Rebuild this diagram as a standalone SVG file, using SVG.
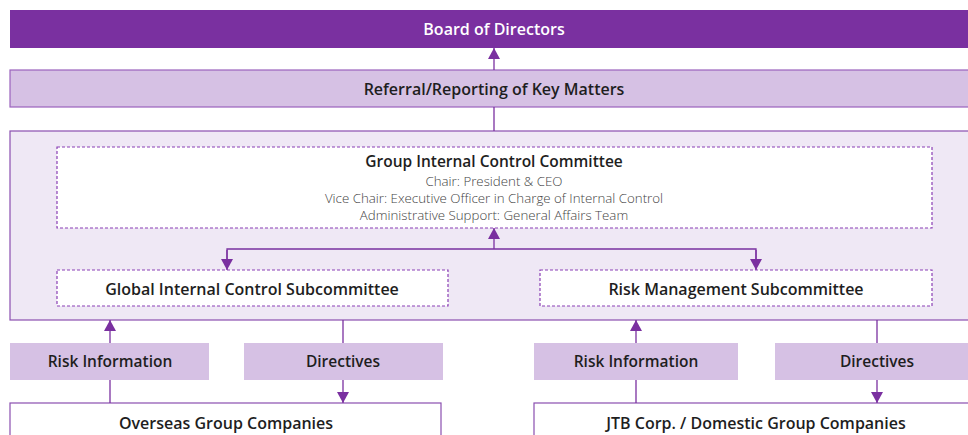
<svg xmlns="http://www.w3.org/2000/svg" width="968" height="435" viewBox="0 0 968 435">
<defs>
<style>
.t{font-family:"Open Sans","Noto Sans","Liberation Sans",sans-serif;font-weight:600;font-size:16px;fill:#1e1e1e;text-anchor:middle}
.m{font-size:15.5px}
.s{font-family:"Open Sans","Noto Sans","Liberation Sans",sans-serif;font-weight:300;font-size:13.3px;fill:#444;text-anchor:middle}
.band{fill:#d6c1e4;stroke:#9a62bd;stroke-width:1.2}
.lab{fill:#d6c1e4}
.dash{fill:#fff;stroke:#8a3fb5;stroke-width:1.2;stroke-dasharray:3 2}
.co{fill:#fff;stroke:#8a4fb0;stroke-width:1.2}
.ln{stroke:#7a30a0;stroke-width:1.3;fill:none}
</style>
<marker id="ah" viewBox="0 0 11 12" refX="11" refY="6" markerWidth="11" markerHeight="12" markerUnits="userSpaceOnUse" orient="auto">
<path d="M0,0 L11,6 L0,12 Z" fill="#7a30a0"/>
</marker>
</defs>
<g id="board">
<rect x="10" y="10" width="968" height="38" fill="#7a30a0"/>
<text class="t" x="494" y="35" style="fill:#fff">Board of Directors</text>
</g>
<g id="referral">
<rect class="band" x="10" y="70" width="968" height="37"/>
<text class="t" x="494" y="94.5">Referral/Reporting of Key Matters</text>
</g>
<g id="container">
<rect x="10" y="131" width="968" height="189" fill="#efe8f5" stroke="#8a4fb0" stroke-width="1.2"/>
</g>
<g id="committee">
<rect class="dash" x="57" y="147" width="875" height="81"/>
<text class="t m" x="494" y="167">Group Internal Control Committee</text>
<text class="s" x="494" y="185.5">Chair: President &amp; CEO</text>
<text class="s" x="494" y="202.5">Vice Chair: Executive Officer in Charge of Internal Control</text>
<text class="s" x="494" y="219.5">Administrative Support: General Affairs Team</text>
</g>
<g id="global">
<rect class="dash" x="57" y="270" width="391" height="36"/>
<text class="t" x="252" y="295">Global Internal Control Subcommittee</text>
</g>
<g id="riskmgmt">
<rect class="dash" x="540" y="270" width="392" height="36"/>
<text class="t" x="736" y="295">Risk Management Subcommittee</text>
</g>
<g id="riskinfo1">
<rect class="lab" x="10" y="343" width="199" height="37"/>
<text class="t m" x="110" y="367">Risk Information</text>
</g>
<g id="directives1">
<rect class="lab" x="244" y="343" width="199" height="37"/>
<text class="t m" x="343" y="367">Directives</text>
</g>
<g id="riskinfo2">
<rect class="lab" x="534" y="343" width="204" height="37"/>
<text class="t m" x="636" y="367">Risk Information</text>
</g>
<g id="directives2">
<rect class="lab" x="775" y="343" width="200" height="37"/>
<text class="t m" x="877" y="367">Directives</text>
</g>
<g id="overseas">
<rect class="co" x="10" y="403" width="431" height="40"/>
<text class="t" x="226" y="428.5">Overseas Group Companies</text>
</g>
<g id="jtb">
<rect class="co" x="534" y="403" width="440" height="40"/>
<text class="t" x="756" y="428.5">JTB Corp. / Domestic Group Companies</text>
</g>
<g id="connectors">
<line class="ln" x1="494" y1="70" x2="494" y2="48" marker-end="url(#ah)"/>
<line class="ln" x1="494" y1="107" x2="494" y2="131"/>
<line class="ln" x1="494" y1="249" x2="494" y2="228" marker-end="url(#ah)"/>
<polyline class="ln" points="227,260 227,249 756,249 756,260"/>
<line class="ln" x1="227" y1="250" x2="227" y2="270" marker-end="url(#ah)"/>
<line class="ln" x1="756" y1="250" x2="756" y2="270" marker-end="url(#ah)"/>
<line class="ln" x1="110" y1="343" x2="110" y2="320" marker-end="url(#ah)"/>
<line class="ln" x1="110" y1="380" x2="110" y2="403"/>
<line class="ln" x1="343" y1="320" x2="343" y2="343"/>
<line class="ln" x1="343" y1="380" x2="343" y2="403" marker-end="url(#ah)"/>
<line class="ln" x1="636" y1="343" x2="636" y2="320" marker-end="url(#ah)"/>
<line class="ln" x1="636" y1="380" x2="636" y2="403"/>
<line class="ln" x1="877" y1="320" x2="877" y2="343"/>
<line class="ln" x1="877" y1="380" x2="877" y2="403" marker-end="url(#ah)"/>
</g>
</svg>
